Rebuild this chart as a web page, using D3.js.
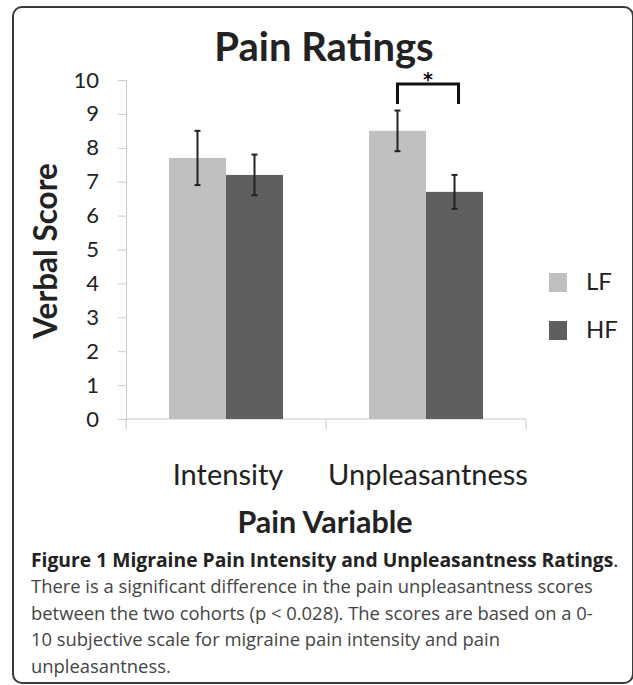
<!DOCTYPE html>
<html>
<head>
<meta charset="utf-8">
<script src="https://cdn.jsdelivr.net/npm/d3@7"></script>
<style>
  body { margin: 0; background: #fff; }
  svg { display: block; }
</style>
</head>
<body>
<div id="content"></div>
<script>
// chart data
var categories = ['Intensity', 'Unpleasantness'];
var series = ['LF', 'HF'];
var lfValues = [7.7, 8.5];
var hfValues = [7.2, 6.7];
var lfErrLow = [6.9, 7.9];
var lfErrHigh = [8.5, 9.1];
var hfErrLow = [6.6, 6.2];
var hfErrHigh = [7.8, 7.2];
var yTickValues = [0, 1, 2, 3, 4, 5, 6, 7, 8, 9, 10];

var captionBold = 'Figure 1 Migraine Pain Intensity and Unpleasantness Ratings';
var captionLines = [
  'There is a significant difference in the pain unpleasantness scores',
  'between the two cohorts (p < 0.028). The scores are based on a 0-',
  '10 subjective scale for migraine pain intensity and pain',
  'unpleasantness.'
];

var width = 633, height = 685;
var colors = { LF: '#c0c0c0', HF: '#5f5f5f' };

// build rows for the bars
var rows = [];
categories.forEach(function(c, i) {
  rows.push({ cat: c, s: 'LF', v: lfValues[i], lo: lfErrLow[i], hi: lfErrHigh[i] });
  rows.push({ cat: c, s: 'HF', v: hfValues[i], lo: hfErrLow[i], hi: hfErrHigh[i] });
});

var svg = d3.select('#content').append('svg')
  .attr('width', width)
  .attr('height', height);

// outer frame (right edge mostly off the picture)
svg.append('rect')
  .attr('x', 13).attr('y', 7)
  .attr('width', 620).attr('height', 676)
  .attr('rx', 9)
  .attr('fill', 'none')
  .attr('stroke', '#3a3a3a')
  .attr('stroke-width', 2);

var x = d3.scaleBand().domain(categories).range([126, 526]);
var x1 = d3.scaleBand().domain(series).range([0, x.bandwidth()]).paddingOuter(0.754);
var y = d3.scaleLinear().domain([0, 10]).range([419, 80]);

// y axis
var yAxis = svg.append('g')
  .attr('transform', 'translate(126,0)')
  .call(d3.axisLeft(y).tickValues(yTickValues).tickSize(8).tickPadding(19));
yAxis.select('.domain').attr('stroke', '#c8c8c8');
yAxis.selectAll('.tick line').attr('stroke', '#c8c8c8');
yAxis.selectAll('.tick text')
  .attr('font-family', 'Lato, sans-serif')
  .attr('font-size', 22)
  .attr('fill', '#222');

// x axis line + boundary ticks
svg.append('line')
  .attr('x1', 126).attr('x2', 526)
  .attr('y1', y(0)).attr('y2', y(0))
  .attr('stroke', '#c8c8c8');
var bounds = categories.map(function(c) { return x(c); }).concat([x(categories[1]) + x.bandwidth()]);
svg.selectAll('.xtick').data(bounds).enter().append('line')
  .attr('x1', function(d) { return d; }).attr('x2', function(d) { return d; })
  .attr('y1', y(0)).attr('y2', y(0) + 11)
  .attr('stroke', '#c8c8c8');

// bars
svg.selectAll('.bar').data(rows).enter().append('rect')
  .attr('x', function(d) { return x(d.cat) + x1(d.s); })
  .attr('y', function(d) { return y(d.v); })
  .attr('width', x1.bandwidth())
  .attr('height', function(d) { return y(0) - y(d.v); })
  .attr('fill', function(d) { return colors[d.s]; });

// error bars
var eb = svg.selectAll('.err').data(rows).enter().append('g')
  .attr('transform', function(d) { return 'translate(' + (x(d.cat) + x1(d.s) + x1.bandwidth() / 2) + ',0)'; })
  .attr('stroke', '#222')
  .attr('stroke-width', 2);
eb.append('line').attr('y1', function(d) { return y(d.lo); }).attr('y2', function(d) { return y(d.hi); });
eb.append('line').attr('x1', -3).attr('x2', 3).attr('y1', function(d) { return y(d.hi); }).attr('y2', function(d) { return y(d.hi); });
eb.append('line').attr('x1', -3).attr('x2', 3).attr('y1', function(d) { return y(d.lo); }).attr('y2', function(d) { return y(d.lo); });

// significance bracket
var bx1 = x(categories[1]) + x1('LF') + x1.bandwidth() / 2;
var bx2 = x(categories[1]) + x1('HF') + x1.bandwidth() / 2 + 4;
svg.append('path')
  .attr('d', 'M' + bx1 + ',104V84H' + bx2 + 'V104')
  .attr('fill', 'none')
  .attr('stroke', '#111')
  .attr('stroke-width', 3);
svg.append('text')
  .attr('x', (bx1 + bx2) / 2).attr('y', 86)
  .attr('text-anchor', 'middle')
  .attr('font-family', '"DejaVu Sans", sans-serif')
  .attr('font-weight', 'bold')
  .attr('font-size', 19)
  .attr('fill', '#111')
  .text('*');

// title
svg.append('text')
  .attr('x', 324).attr('y', 61)
  .attr('text-anchor', 'middle')
  .attr('font-family', 'Lato, sans-serif')
  .attr('font-weight', 'bold')
  .attr('font-size', 40)
  .attr('fill', '#222')
  .text('Pain Ratings');

// y title
svg.append('text')
  .attr('transform', 'translate(57,251) rotate(-90)')
  .attr('text-anchor', 'middle')
  .attr('font-family', 'Lato, sans-serif')
  .attr('font-weight', 'bold')
  .attr('font-size', 31.5)
  .attr('fill', '#222')
  .text('Verbal Score');

// category labels
svg.selectAll('.cat').data(categories).enter().append('text')
  .attr('x', function(d) { return x(d) + x.bandwidth() / 2 + 2; })
  .attr('y', 485)
  .attr('text-anchor', 'middle')
  .attr('font-family', 'Lato, sans-serif')
  .attr('font-size', 29)
  .attr('fill', '#222')
  .text(function(d) { return d; });

// x title
svg.append('text')
  .attr('x', 325).attr('y', 533)
  .attr('text-anchor', 'middle')
  .attr('font-family', 'Lato, sans-serif')
  .attr('font-weight', 'bold')
  .attr('font-size', 30.5)
  .attr('fill', '#222')
  .text('Pain Variable');

// legend
var leg = svg.selectAll('.leg').data(series).enter().append('g')
  .attr('transform', function(d, i) { return 'translate(549,' + (273 + i * 48) + ')'; });
leg.append('rect').attr('width', 18).attr('height', 19)
  .attr('fill', function(d) { return colors[d]; });
leg.append('text')
  .attr('x', 37).attr('y', 17)
  .attr('font-family', 'Lato, sans-serif')
  .attr('font-size', 24)
  .attr('fill', '#222')
  .text(function(d) { return d; });

// caption
var cap = svg.append('text')
  .attr('x', 31).attr('y', 567)
  .attr('font-family', '"Open Sans", sans-serif')
  .attr('fill', '#222');
cap.append('tspan').attr('font-weight', 'bold').attr('font-size', 19.3).text(captionBold);
cap.append('tspan').attr('font-size', 19.3).text('.');

svg.selectAll('.capline').data(captionLines).enter().append('text')
  .attr('x', 31)
  .attr('y', function(d, i) { return 593 + i * 26.5; })
  .attr('font-family', '"Open Sans", sans-serif')
  .attr('font-size', 18.4)
  .attr('fill', '#444')
  .text(function(d) { return d; });
</script>
</body>
</html>
